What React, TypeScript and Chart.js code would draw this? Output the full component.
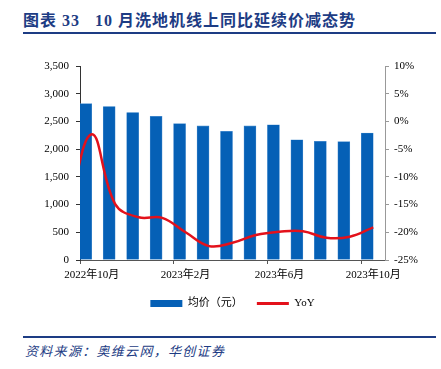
import React, { useEffect, useRef } from "react";
import { Chart, registerables } from "chart.js";

Chart.register(...registerables);

const months = [
  "2022年10月", "2022年11月", "2022年12月", "2023年1月", "2023年2月", "2023年3月",
  "2023年4月", "2023年5月", "2023年6月", "2023年7月", "2023年8月", "2023年9月", "2023年10月",
];
const avgPrice = [2820, 2770, 2660, 2590, 2460, 2420, 2320, 2420, 2440, 2170, 2140, 2135, 2290];
// YoY (%) for each month; prevYoY is 2022年9月, only partly visible at the left edge
const yoy = [-2.3, -14.9, -17.3, -17.4, -20.0, -22.5, -21.9, -20.5, -19.9, -19.8, -21.0, -20.8, -19.1];
const prevYoY = -16;
const leftTicks = { min: 0, max: 3500, step: 500 };
const rightTicks = { min: -25, max: 10, step: 5 };

const serif = "'Liberation Serif', 'Noto Sans CJK SC', serif";

export default function App() {
  const ref = useRef<HTMLCanvasElement | null>(null);

  useEffect(() => {
    document.body.style.margin = "0";
    const canvas = ref.current!;
    const lineData = [{ x: -1, y: prevYoY }, ...yoy.map((v, i) => ({ x: i, y: v }))];
    const chart = new Chart(canvas, {
      type: "line",
      data: {
        labels: months,
        datasets: [
          {
            type: "bar",
            label: "均价（元）",
            data: avgPrice,
            backgroundColor: "#0560B6",
            borderColor: "#4A8ED0",
            borderWidth: 0.6,
            barThickness: 12,
            yAxisID: "y",
            xAxisID: "x",
            order: 2,
          } as any,
          {
            type: "line",
            label: "YoY",
            data: lineData as any,
            borderColor: "#E3111B",
            backgroundColor: "#E3111B",
            borderWidth: 2.5,
            pointRadius: 0,
            tension: 0.4,
            yAxisID: "y1",
            xAxisID: "x2",
            order: 1,
          },
        ],
      },
      options: {
        animation: false,
        responsive: false,
        maintainAspectRatio: false,
        layout: { padding: { left: 30, right: 6, top: 26, bottom: 11 } },
        plugins: {
          tooltip: { enabled: false },
          legend: {
            position: "bottom",
            labels: {
              usePointStyle: true,
              pointStyleWidth: 32,
              boxHeight: 7,
              padding: 14,
              color: "#000",
              font: { family: serif, size: 11 },
              generateLabels: () => [
                {
                  text: "均价（元）",
                  fillStyle: "#0560B6",
                  strokeStyle: "#0560B6",
                  lineWidth: 0,
                  pointStyle: "rect",
                  datasetIndex: 0,
                  hidden: false,
                } as any,
                {
                  text: "YoY",
                  fillStyle: "#E3111B",
                  strokeStyle: "#E3111B",
                  lineWidth: 3,
                  pointStyle: "line",
                  datasetIndex: 1,
                  hidden: false,
                } as any,
              ],
            },
          },
        },
        scales: {
          x: {
            type: "category",
            offset: true,
            grid: {
              display: true,
              drawOnChartArea: false,
              drawTicks: true,
              tickLength: 4,
              offset: true,
              color: (ctx: any) => (ctx.index % 4 === 0 ? "#555" : "transparent"),
            },
            border: { color: "#555" },
            ticks: {
              autoSkip: false,
              maxRotation: 0,
              padding: 5,
              color: "#000",
              font: { family: serif, size: 11 },
              callback: (_v: any, i: number) => (i % 4 === 0 ? months[i] : ""),
            },
            afterFit: (s: any) => {
              s.height = 24;
            },
          },
          x2: {
            type: "linear",
            display: false,
            offset: false,
            min: -0.5,
            max: 12.5,
          },
          y: {
            position: "left",
            min: leftTicks.min,
            max: leftTicks.max,
            grid: { drawOnChartArea: false, tickLength: 4, color: "#333" },
            border: { color: "#333" },
            ticks: {
              stepSize: leftTicks.step,
              padding: 7,
              color: "#000",
              font: { family: serif, size: 11 },
              callback: (v: any) => Number(v).toLocaleString("en-US"),
            },
            afterFit: (s: any) => {
              s.width = 50;
            },
          },
          y1: {
            position: "right",
            min: rightTicks.min,
            max: rightTicks.max,
            grid: { drawOnChartArea: false, tickLength: 4, color: "#999" },
            border: { color: "#999" },
            ticks: {
              stepSize: rightTicks.step,
              padding: 5,
              color: "#000",
              font: { family: serif, size: 11 },
              callback: (v: any) => `${v}%`,
            },
            afterFit: (s: any) => {
              s.width = 50;
            },
          },
        },
      },
    });
    return () => chart.destroy();
  }, []);

  const navy = "#1D3C84";
  return (
    <div style={{ position: "relative", width: 441, height: 369, background: "#fff", overflow: "hidden" }}>
      <div
        style={{
          position: "absolute",
          left: 23,
          top: 10,
          fontFamily: serif,
          fontWeight: "bold",
          fontSize: 16,
          letterSpacing: 1,
          color: navy,
          whiteSpace: "pre",
          lineHeight: "22px",
        }}
      >
        {"图表 33   10 月洗地机线上同比延续价减态势"}
      </div>
      <div style={{ position: "absolute", left: 23, top: 32, width: 413, height: 2, background: navy }} />
      <canvas
        ref={ref}
        width={441}
        height={290}
        style={{ position: "absolute", left: 0, top: 40, width: 441, height: 290 }}
      />
      <div style={{ position: "absolute", left: 23, top: 336, width: 413, height: 1.5, background: navy }} />
      <div
        style={{
          position: "absolute",
          left: 25,
          top: 342,
          fontFamily: "'Noto Sans CJK SC', sans-serif",
          fontStyle: "italic",
          fontSize: 13,
          letterSpacing: 1.3,
          color: navy,
          whiteSpace: "pre",
          lineHeight: "18px",
        }}
      >
        {"资料来源：奥维云网，华创证券"}
      </div>
    </div>
  );
}
